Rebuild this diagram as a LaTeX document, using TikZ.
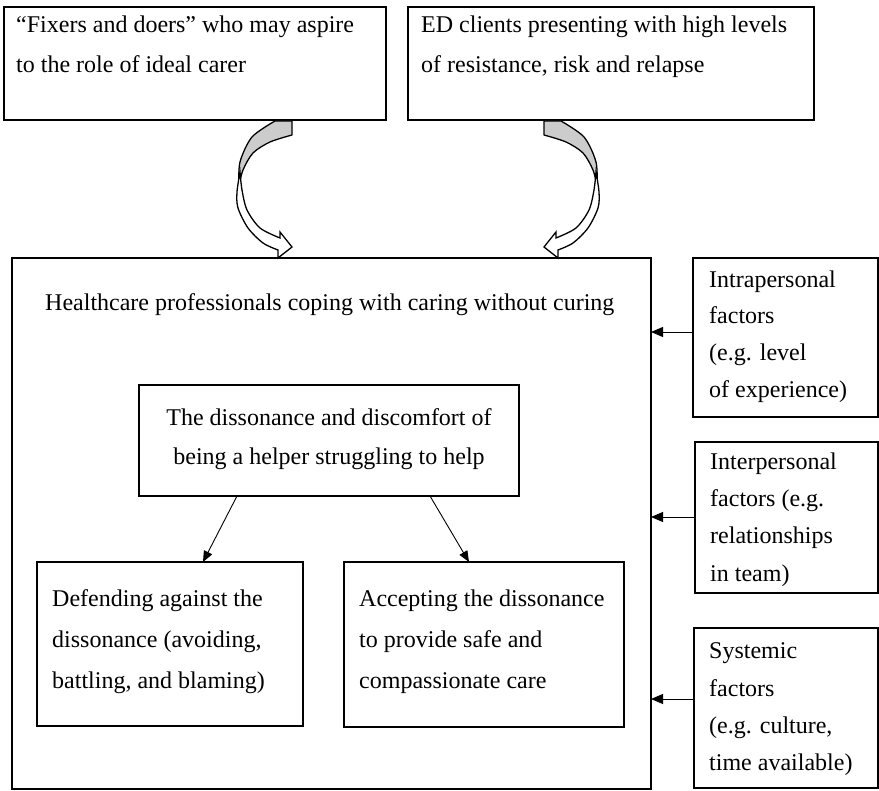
\documentclass[tikz,border=0pt]{standalone}
\usepackage{fontspec}
\setmainfont{Liberation Serif}
\usetikzlibrary{arrows.meta}
\begin{document}
\begin{tikzpicture}[x=1pt,y=-1pt,
  box/.style={draw, line width=1.3pt, inner sep=0pt, outer sep=0pt, anchor=north west},
  txt/.style={anchor=base west, inner sep=0pt, font=\fontsize{24}{28}\selectfont},
  ctxt/.style={anchor=base, inner sep=0pt, font=\fontsize{24}{28}\selectfont},
  arr/.style={line width=0.9pt, -{Triangle[length=11pt,width=9pt]}},
  arrR/.style={line width=0.9pt, -{Triangle[length=12pt,width=10pt]}},
  backface/.style={fill=black!20, draw, line width=1.3pt, line join=round},
  frontface/.style={fill=white, draw, line width=1.3pt, line join=miter},
]
\useasboundingbox (0,0) rectangle (879,791);

% boxes
\node[box, minimum width=382pt, minimum height=113pt] (A) at (4,7) {};
\node[box, minimum width=406pt, minimum height=113pt] (B) at (408,7) {};
\node[box, minimum width=639pt, minimum height=531pt] (main) at (12,258) {};
\node[box, minimum width=380pt, minimum height=111pt] (inner) at (139,385) {};
\node[box, minimum width=266pt, minimum height=164pt] (def) at (37,562) {};
\node[box, minimum width=280pt, minimum height=165pt] (acc) at (344,562) {};
\node[box, minimum width=185pt, minimum height=159pt] (intra) at (693,258) {};
\node[box, minimum width=183pt, minimum height=151pt] (inter) at (695,442) {};
\node[box, minimum width=184pt, minimum height=160pt] (sys) at (694,628) {};

% texts
\node[txt] (ta1) at (16,33) {“Fixers and doers” who may aspire};
\node[txt] (ta2) at (16,73) {to the role of ideal carer};
\node[txt] (tb1) at (421,33) {ED clients presenting with high levels};
\node[txt] (tb2) at (421,73) {of resistance, risk and relapse};
\node[txt] (tm) at (45,311) {Healthcare professionals coping with caring without curing};
\node[ctxt] (ti1) at (329,426) {The dissonance and discomfort of};
\node[ctxt] (ti2) at (329,465) {being a helper struggling to help};
\node[txt] (td1) at (52,606) {Defending against the};
\node[txt] (td2) at (52,647) {dissonance (avoiding,};
\node[txt] (td3) at (52,688) {battling, and blaming)};
\node[txt] (tc1) at (359,606) {Accepting the dissonance};
\node[txt] (tc2) at (359,647) {to provide safe and};
\node[txt] (tc3) at (359,688) {compassionate care};
\node[txt] (tr1) at (709,288) {Intrapersonal};
\node[txt] (tr2) at (709,324) {factors};
\node[txt] (tr3) at (709,361) {(e.g. level};
\node[txt] (tr4) at (709,398) {of experience)};
\node[txt] (ts1) at (710,470) {Interpersonal};
\node[txt] (ts2) at (710,507) {factors (e.g.};
\node[txt] (ts3) at (710,544) {relationships};
\node[txt] (ts4) at (710,581) {in team)};
\node[txt] (tu1) at (709,658) {Systemic};
\node[txt] (tu2) at (709,696) {factors};
\node[txt] (tu3) at (709,733) {(e.g. culture,};
\node[txt] (tu4) at (709,770) {time available)};

% connectors
\coordinate (y1) at (0,332);
\coordinate (y2) at (0,517);
\coordinate (y3) at (0,699);
\draw[arrR] (intra.west |- y1) -- (main.east |- y1);
\draw[arrR] (inter.west |- y2) -- (main.east |- y2);
\draw[arrR] (sys.west |- y3) -- (main.east |- y3);

\coordinate (x1) at (237,0);
\coordinate (x2) at (203,0);
\coordinate (x3) at (430,0);
\coordinate (x4) at (469,0);
\draw[arr] (inner.south -| x1) -- (def.north -| x2);
\draw[arr] (inner.south -| x3) -- (acc.north -| x4);

% curved block arrows
\newcommand\curvedblock{%
  \path[backface] (275,121) -- (292,121) -- (292,135)
    -- plot[smooth] coordinates {(292,135) (270,142) (253,153) (243,170) (239,186)}
    -- plot[smooth] coordinates {(239,186) (240,162) (252,137) (275,121)} -- cycle;
  \path[frontface] plot[smooth] coordinates {(240,172) (237,192) (238,208) (248,228) (263,243) (278,250)}
    -- (278,258) -- (292,247) -- (280,232) -- (280,238)
    -- plot[smooth] coordinates {(280,238) (260,228) (247,210) (242,190) (240,172)} -- cycle;
}
\curvedblock
\begin{scope}[shift={(836,0)}, xscale=-1]
\curvedblock
\end{scope}
\end{tikzpicture}
\end{document}
